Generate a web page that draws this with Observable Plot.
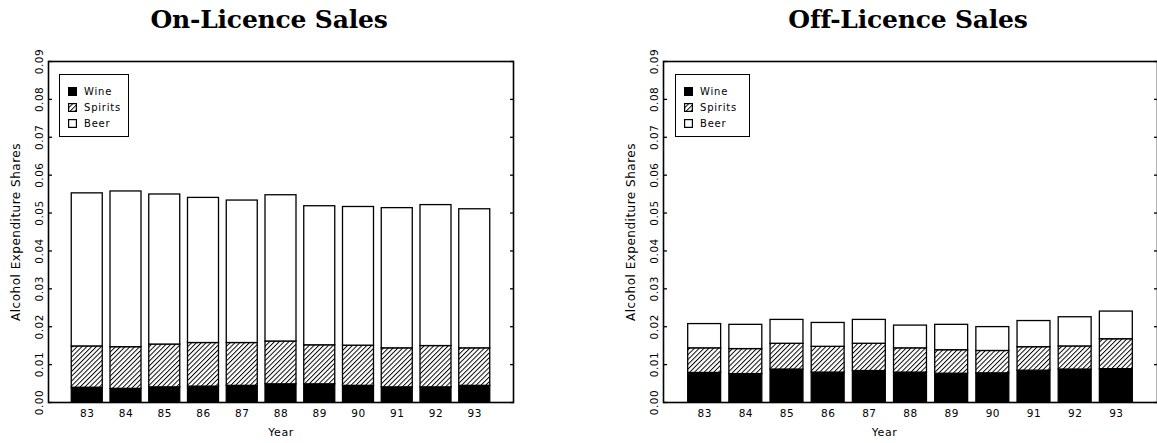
<!DOCTYPE html>
<html>
<head>
<meta charset="utf-8">
<script src="https://cdn.jsdelivr.net/npm/d3@7"></script>
<script src="https://cdn.jsdelivr.net/npm/@observablehq/plot@0.6"></script>
<style>
  body { margin: 0; background: #fff; }
  #root { position: relative; width: 1157px; height: 443px; overflow: hidden; background: #fff; }
  .panel { position: absolute; top: 0; }
  .title { position: absolute; top: 5px; transform: translateX(-50%); white-space: nowrap;
           font-family: "DejaVu Serif", serif; font-weight: bold; font-size: 25px; color: #000; letter-spacing: -0.2px; }
  .legend { position: absolute; border: 1.3px solid #000; background: #fff; box-sizing: border-box;
            font-family: "DejaVu Sans", sans-serif; font-size: 10px; letter-spacing: 0.8px; color: #000; }
  .legend .item { position: absolute; left: 8px; display: flex; align-items: center; height: 12px; }
  .legend .item svg { margin-right: 7px; }
</style>
</head>
<body>
<svg width="0" height="0" style="position:absolute">
  <defs>
    <pattern id="hatch" patternUnits="userSpaceOnUse" width="3.4" height="3.4" patternTransform="rotate(45)">
      <rect width="3.4" height="3.4" fill="#fff"></rect>
      <line x1="0" y1="0" x2="0" y2="3.4" stroke="#000" stroke-width="1.9"></line>
    </pattern>
  </defs>
</svg>
<div id="root"></div>
<script>
// ---- data (shares of expenditure) ----
const years = [83, 84, 85, 86, 87, 88, 89, 90, 91, 92, 93];
const categories = ["Wine", "Spirits", "Beer"];
const yTicks = [0, 0.01, 0.02, 0.03, 0.04, 0.05, 0.06, 0.07, 0.08, 0.09];

const onWine    = [0.0039, 0.0036, 0.0040, 0.0042, 0.0044, 0.0048, 0.0048, 0.0044, 0.0040, 0.0040, 0.0044];
const onSpirits = [0.0109, 0.0110, 0.0113, 0.0115, 0.0113, 0.0113, 0.0103, 0.0106, 0.0103, 0.0109, 0.0099];
const onBeer    = [0.0404, 0.0411, 0.0396, 0.0383, 0.0376, 0.0386, 0.0367, 0.0366, 0.0370, 0.0372, 0.0367];

const offWine    = [0.0078, 0.0075, 0.0087, 0.0079, 0.0083, 0.0079, 0.0076, 0.0077, 0.0084, 0.0087, 0.0088];
const offSpirits = [0.0065, 0.0066, 0.0068, 0.0068, 0.0072, 0.0064, 0.0062, 0.0059, 0.0062, 0.0061, 0.0079];
const offBeer    = [0.0064, 0.0064, 0.0063, 0.0063, 0.0063, 0.0060, 0.0067, 0.0063, 0.0069, 0.0077, 0.0073];

const fills = {Wine: "#000", Spirits: "url(#hatch)", Beer: "#fff"};

function stackRows(wine, spirits, beer) {
  const rows = [];
  years.forEach((yr, i) => {
    let base = 0;
    [["Wine", wine[i]], ["Spirits", spirits[i]], ["Beer", beer[i]]].forEach(([k, v]) => {
      rows.push({year: yr, kind: k, y1: base, y2: base + v});
      base += v;
    });
  });
  return rows;
}

function makePanel({wine, spirits, beer, width, marginLeft, marginRight, yearDx}) {
  const rows = stackRows(wine, spirits, beer);
  const barMarks = categories.map(k =>
    Plot.rectY(rows.filter(d => d.kind === k), {
      x1: d => d.year - 0.4, x2: d => d.year + 0.4, y1: "y1", y2: "y2",
      fill: fills[k], stroke: "#000", strokeWidth: 1.3
    })
  );
  return Plot.plot({
    width, height: 443,
    marginTop: 61, marginBottom: 41, marginLeft, marginRight,
    x: {domain: [82, 94]},
    y: {domain: [0, 0.09]},
    style: {fontFamily: "DejaVu Sans, sans-serif", fontSize: "10.5px", color: "#000", background: "transparent", letterSpacing: "0.5px"},
    marks: [
      ...barMarks,
      Plot.frame({stroke: "#000", strokeWidth: 1.6}),
      Plot.axisX({ticks: years, tickFormat: d => String(d), tickSize: 0, tickPadding: 7, label: null}),
      Plot.axisY({ticks: yTicks, tickFormat: d3.format(".2f"), tickSize: 0, tickPadding: 6, tickRotate: -90, label: null}),
      Plot.axisY({ticks: yTicks, tickFormat: () => "", tickSize: -4, label: null, strokeWidth: 1.3}),
      Plot.axisY({anchor: "right", ticks: yTicks, tickFormat: () => "", tickSize: -4, label: null, strokeWidth: 1.3}),
      Plot.text(["Year"], {frameAnchor: "bottom", dy: 33, dx: yearDx, fontSize: 11, text: d => d}),
      Plot.text(["Alcohol Expenditure Shares"], {frameAnchor: "left", rotate: -90, dx: -32, textAnchor: "middle", fontSize: 12, text: d => d, style: "letter-spacing:1px"})
    ]
  });
}

const root = document.getElementById("root");

function addPanel(left, cfg) {
  const div = document.createElement("div");
  div.className = "panel";
  div.style.left = left + "px";
  div.appendChild(makePanel(cfg));
  root.appendChild(div);
}

function addTitle(text, cx) {
  const t = document.createElement("div");
  t.className = "title";
  t.style.left = cx + "px";
  t.textContent = text;
  root.appendChild(t);
}

function swatch(kind) {
  const ns = "http://www.w3.org/2000/svg";
  const s = document.createElementNS(ns, "svg");
  s.setAttribute("width", 9); s.setAttribute("height", 9);
  const r = document.createElementNS(ns, "rect");
  r.setAttribute("x", 0.6); r.setAttribute("y", 0.6);
  r.setAttribute("width", 7.8); r.setAttribute("height", 7.8);
  r.setAttribute("fill", fills[kind]); r.setAttribute("stroke", "#000"); r.setAttribute("stroke-width", 1.2);
  s.appendChild(r);
  return s;
}

function addLegend(left, top, width) {
  const lg = document.createElement("div");
  lg.className = "legend";
  lg.style.left = left + "px"; lg.style.top = top + "px";
  lg.style.width = width + "px"; lg.style.height = "63px";
  categories.forEach((k, i) => {
    const it = document.createElement("div");
    it.className = "item";
    it.style.top = (10 + i * 16) + "px";
    it.appendChild(swatch(k));
    const sp = document.createElement("span");
    sp.textContent = k;
    it.appendChild(sp);
    lg.appendChild(it);
  });
  root.appendChild(lg);
}

addPanel(0, {wine: onWine, spirits: onSpirits, beer: onBeer, width: 560, marginLeft: 48, marginRight: 47, yearDx: 0});
addPanel(590, {wine: offWine, spirits: offSpirits, beer: offBeer, width: 567, marginLeft: 73, marginRight: 0, yearDx: -26});
addTitle("On-Licence Sales", 269);
addTitle("Off-Licence Sales", 908);
addLegend(59, 74, 70);
addLegend(675, 74, 75);
</script>
</body>
</html>
